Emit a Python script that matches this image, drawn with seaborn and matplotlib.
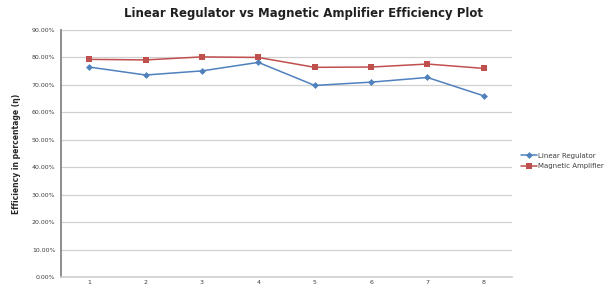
import matplotlib
matplotlib.use("Agg")
import matplotlib.pyplot as plt
import seaborn as sns
import pandas as pd
from matplotlib.ticker import FuncFormatter

categories = [1, 2, 3, 4, 5, 6, 7, 8]
linear_regulator = [76.5, 73.6, 75.1, 78.2, 69.8, 71.0, 72.7, 66.0]
magnetic_amplifier = [79.3, 79.1, 80.2, 80.0, 76.4, 76.5, 77.6, 76.0]
series_names = ["Linear Regulator", "Magnetic Amplifier"]

df = pd.DataFrame({
    "x": categories * 2,
    "y": linear_regulator + magnetic_amplifier,
    "series": [series_names[0]] * len(categories) + [series_names[1]] * len(categories),
})

sns.set_theme(style="white")
plt.rcParams["font.family"] = ["DejaVu Sans"]

fig = plt.figure(figsize=(6.07, 2.88), dpi=100)
ax = fig.add_axes([61 / 607, 1 - 277 / 288, (512 - 61) / 607, (277 - 30) / 288])

palette = {series_names[0]: "#4F81BD", series_names[1]: "#C0504D"}
sns.lineplot(data=df, x="x", y="y", hue="series", style="series",
             markers={series_names[0]: "D", series_names[1]: "s"},
             dashes=False, palette=palette, ax=ax, linewidth=1.1,
             markeredgewidth=0)
for line in ax.lines:
    if line.get_marker() == "D":
        line.set_markersize(3.5)
    else:
        line.set_markersize(5)

ax.set_xlim(0.5, 8.5)
ax.set_ylim(0, 90)
ax.set_yticks(range(0, 91, 10))
ax.yaxis.set_major_formatter(FuncFormatter(lambda v, p: f"{v:.2f}%"))
ax.set_xticks(categories)
ax.set_xticklabels([str(c) for c in categories])
ax.tick_params(axis="both", labelsize=4.5, colors="#404040", length=0, pad=4)
ax.tick_params(axis="x", pad=2.5)
ax.grid(axis="y", color="#D0D0D0", linewidth=0.9)
for s in ["top", "right"]:
    ax.spines[s].set_visible(False)
ax.spines["left"].set_color("#808080")
ax.spines["bottom"].set_color("#D0D0D0")
ax.set_xlabel("")
ax.set_ylabel("Efficiency in percentage (η)", fontsize=5.5, fontweight="bold", labelpad=8)

fig.suptitle("Linear Regulator vs Magnetic Amplifier Efficiency Plot",
             fontsize=8.5, fontweight="bold", x=0.5, y=0.975, color="#202020")

handles, labels = ax.get_legend_handles_labels()
leg = ax.legend(handles, labels, loc="center left", bbox_to_anchor=(0.852, 1 - 161 / 288),
                bbox_transform=fig.transFigure, frameon=False, fontsize=5,
                handlelength=2.2, handletextpad=0.2, labelspacing=0.6, borderpad=0.1)
for t in leg.get_texts():
    t.set_color("#404040")

fig.savefig("out.png", dpi=100)
